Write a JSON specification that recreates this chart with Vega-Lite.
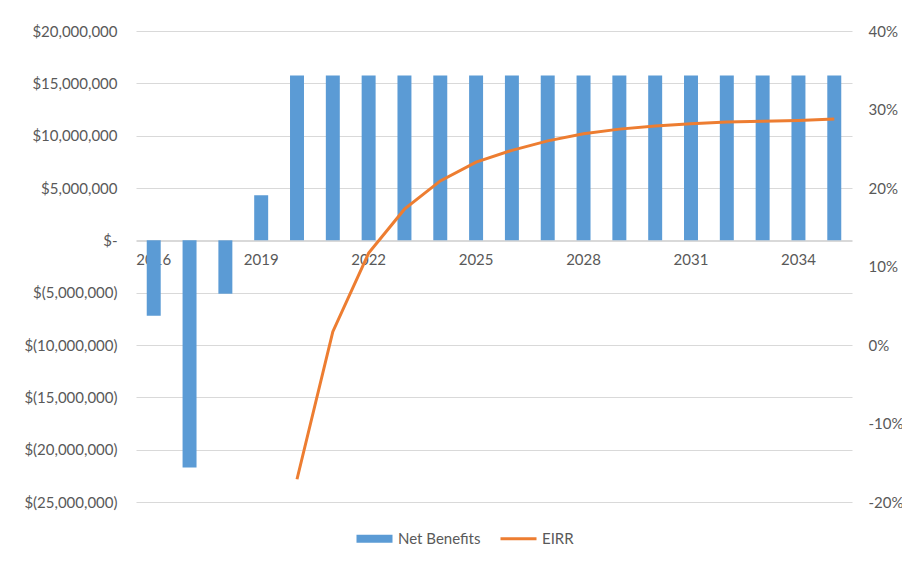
{
  "$schema": "https://vega.github.io/schema/vega-lite/v6.json",
  "autosize": {"type": "none"},
  "width": 716,
  "height": 471,
  "padding": {"left": 136, "top": 31, "right": 50, "bottom": 62},
  "background": "white",
  "config": {
    "font": "Lato",
    "view": {"stroke": null},
    "axis": {"labelFont": "Lato", "labelFontSize": 15, "labelColor": "#595959", "ticks": false, "domain": false, "title": null}
  },
  "datasets": {
    "nb": [
      {"year": "2016", "value": -7200000, "series": "Net Benefits"},
      {"year": "2017", "value": -21700000, "series": "Net Benefits"},
      {"year": "2018", "value": -5100000, "series": "Net Benefits"},
      {"year": "2019", "value": 4300000, "series": "Net Benefits"},
      {"year": "2020", "value": 15750000, "series": "Net Benefits"},
      {"year": "2021", "value": 15750000, "series": "Net Benefits"},
      {"year": "2022", "value": 15750000, "series": "Net Benefits"},
      {"year": "2023", "value": 15750000, "series": "Net Benefits"},
      {"year": "2024", "value": 15750000, "series": "Net Benefits"},
      {"year": "2025", "value": 15750000, "series": "Net Benefits"},
      {"year": "2026", "value": 15750000, "series": "Net Benefits"},
      {"year": "2027", "value": 15750000, "series": "Net Benefits"},
      {"year": "2028", "value": 15750000, "series": "Net Benefits"},
      {"year": "2029", "value": 15750000, "series": "Net Benefits"},
      {"year": "2030", "value": 15750000, "series": "Net Benefits"},
      {"year": "2031", "value": 15750000, "series": "Net Benefits"},
      {"year": "2032", "value": 15750000, "series": "Net Benefits"},
      {"year": "2033", "value": 15750000, "series": "Net Benefits"},
      {"year": "2034", "value": 15750000, "series": "Net Benefits"},
      {"year": "2035", "value": 15750000, "series": "Net Benefits"}
    ],
    "eirr": [
      {"year": "2020", "eirr": -0.171, "series": "EIRR"},
      {"year": "2021", "eirr": 0.017, "series": "EIRR"},
      {"year": "2022", "eirr": 0.117, "series": "EIRR"},
      {"year": "2023", "eirr": 0.173, "series": "EIRR"},
      {"year": "2024", "eirr": 0.209, "series": "EIRR"},
      {"year": "2025", "eirr": 0.233, "series": "EIRR"},
      {"year": "2026", "eirr": 0.248, "series": "EIRR"},
      {"year": "2027", "eirr": 0.26, "series": "EIRR"},
      {"year": "2028", "eirr": 0.269, "series": "EIRR"},
      {"year": "2029", "eirr": 0.275, "series": "EIRR"},
      {"year": "2030", "eirr": 0.279, "series": "EIRR"},
      {"year": "2031", "eirr": 0.282, "series": "EIRR"},
      {"year": "2032", "eirr": 0.284, "series": "EIRR"},
      {"year": "2033", "eirr": 0.285, "series": "EIRR"},
      {"year": "2034", "eirr": 0.286, "series": "EIRR"},
      {"year": "2035", "eirr": 0.288, "series": "EIRR"}
    ]
  },
  "layer": [
    {
      "data": {"name": "nb"},
      "mark": {"type": "bar"},
      "encoding": {
        "x": {
          "field": "year", "type": "ordinal",
          "scale": {"paddingInner": 0.61, "paddingOuter": 0.3},
          "axis": {
            "labelAngle": 0,
            "offset": -261,
            "domain": true,
            "domainColor": "#d9d9d9",
            "domainWidth": 1,
            "labelPadding": 11,
            "labelExpr": "(+datum.value - 2016) % 3 == 0 ? datum.value : ''"
          }
        },
        "y": {
          "field": "value", "type": "quantitative",
          "scale": {"domain": [-25000000, 20000000], "nice": false, "zero": false},
          "axis": {
            "orient": "left",
            "values": [-25000000, -20000000, -15000000, -10000000, -5000000, 0, 5000000, 10000000, 15000000, 20000000],
            "grid": true,
            "gridColor": "#d9d9d9",
            "labelPadding": 19,
            "labelExpr": "datum.value == 0 ? '$-\u00a0\u00a0\u00a0' : (datum.value < 0 ? '$(' + format(-datum.value, ',') + ')' : '$' + format(datum.value, ',') + '\u00a0')"
          }
        },
        "color": {
          "field": "series", "type": "nominal",
          "scale": {"domain": ["Net Benefits", "EIRR"], "range": ["#5b9bd5", "#ed7d31"]},
          "legend": {
            "title": null,
            "orient": "none",
            "direction": "horizontal",
            "columns": 2,
            "legendX": 231,
            "legendY": 500,
            "padding": 0,
            "columnPadding": 13,
            "labelFont": "Lato",
            "labelFontSize": 15,
            "labelColor": "#595959",
            "labelOffset": 16,
            "symbolSize": 1296,
            "symbolType": "M-1,-0.22H1V0.22H-1Z",
            "encode": {
              "symbols": {
                "update": {
                  "shape": {"signal": "datum.value === 'EIRR' ? 'M-1,0H1' : 'M-1,-0.22H1V0.22H-1Z'"},
                  "fill": {"signal": "datum.value === 'EIRR' ? 'transparent' : '#5b9bd5'"},
                  "stroke": {"signal": "datum.value === 'EIRR' ? '#ed7d31' : 'transparent'"},
                  "strokeWidth": {"signal": "datum.value === 'EIRR' ? 3 : 0"},
                  "opacity": {"value": 1}
                }
              }
            }
          }
        }
      }
    },
    {
      "data": {"name": "eirr"},
      "mark": {"type": "line", "strokeWidth": 3, "color": "#ed7d31"},
      "encoding": {
        "x": {"field": "year", "type": "ordinal"},
        "y": {
          "field": "eirr", "type": "quantitative",
          "scale": {"domain": [-0.2, 0.4], "nice": false, "zero": false},
          "axis": {
            "orient": "right",
            "values": [-0.2, -0.1, 0, 0.1, 0.2, 0.3, 0.4],
            "labelExpr": "replace(format(datum.value, '.0%'), '\u2212', '-')",
            "grid": false,
            "labelPadding": 16
          }
        },
        "color": {"field": "series", "type": "nominal"}
      }
    }
  ],
  "resolve": {"scale": {"y": "independent"}}
}
